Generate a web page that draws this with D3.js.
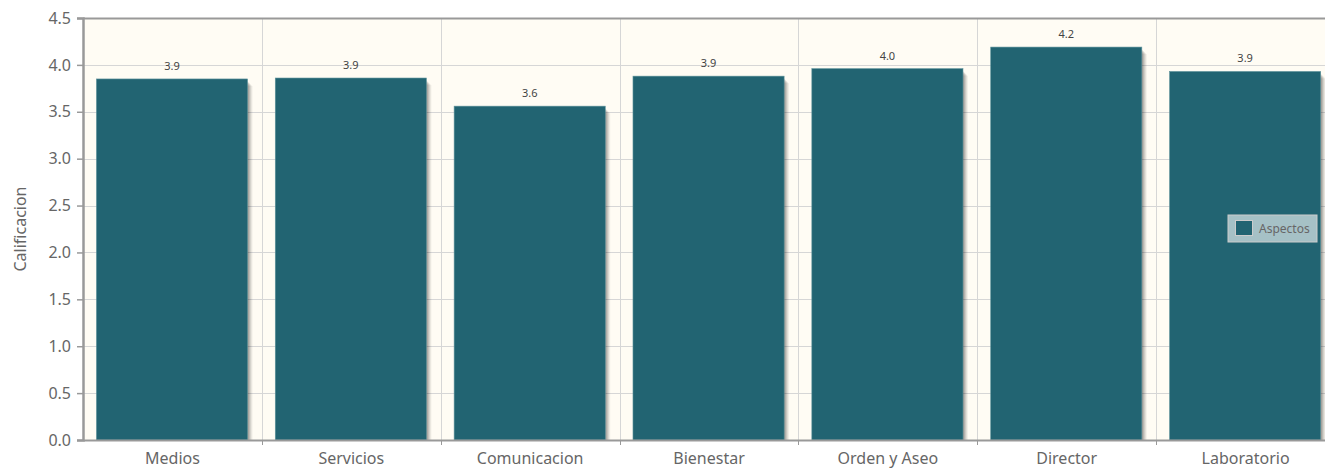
<!DOCTYPE html>
<html>
<head>
<meta charset="utf-8">
<script src="https://cdn.jsdelivr.net/npm/d3@7"></script>
<style>
  body { margin: 0; background: #fff; overflow: hidden; }
  svg { display: block; font-family: "Noto Sans", sans-serif; }
</style>
</head>
<body>
<div id="graphicContainer"></div>
<script>

// categories and values
var categories = ["Medios", "Servicios", "Comunicacion", "Bienestar", "Orden y Aseo", "Director", "Laboratorio"]
var values = [3.85, 3.86, 3.56, 3.88, 3.96, 4.19, 3.93]
var yTicks = [0, 0.5, 1, 1.5, 2, 2.5, 3, 3.5, 4, 4.5]
var seriesName = "Aspectos"

function init() {

	var width = 1325
	var height = 468
	var margin = {top: 18, right: -10, bottom: 28, left: 83}
	var font = "Noto Sans, sans-serif"

	var svg = d3.select("#graphicContainer").append("svg")
		.attr("width", width)
		.attr("height", height)

	var plotW = width - margin.left - margin.right
	var plotH = height - margin.top - margin.bottom

	var x = d3.scaleBand()
		.domain(categories)
		.range([0, plotW])
		.paddingInner(0)
		.paddingOuter(0)

	var y = d3.scaleLinear()
		.domain([0, 4.5])
		.range([plotH, 0])

	var g = svg.append("g").attr("transform", "translate(" + margin.left + "," + margin.top + ")")

	// plot background
	g.append("rect")
		.attr("width", plotW)
		.attr("height", plotH)
		.attr("fill", "#fffcf4")

	// horizontal grid
	g.append("g")
		.selectAll("line")
		.data(yTicks)
		.enter()
		.append("line")
		.attr("x1", 0)
		.attr("x2", plotW)
		.attr("y1", d => Math.round(y(d)) + 0.5)
		.attr("y2", d => Math.round(y(d)) + 0.5)
		.attr("stroke", "#d6d6d6")

	// vertical grid at category boundaries
	g.append("g")
		.selectAll("line")
		.data(categories.slice(1))
		.enter()
		.append("line")
		.attr("x1", d => Math.round(x(d)) + 0.5)
		.attr("x2", d => Math.round(x(d)) + 0.5)
		.attr("y1", 0)
		.attr("y2", plotH)
		.attr("stroke", "#d6d6d6")

	// bar shadows
	var bw = x.bandwidth()
	var barW = bw * 0.845
	var barOff = bw * 0.075

	var shadowSteps = [{o: 1, a: 0.12}, {o: 2, a: 0.11}, {o: 3, a: 0.09}, {o: 4, a: 0.07}, {o: 5, a: 0.05}]

	shadowSteps.forEach(function(s) {
		g.append("g")
			.selectAll("rect")
			.data(values)
			.enter()
			.append("rect")
			.attr("x", (d, i) => x(categories[i]) + barOff + s.o)
			.attr("y", d => y(d) + s.o + 2)
			.attr("width", barW)
			.attr("height", d => plotH - y(d) - s.o - 2)
			.attr("fill", "rgba(0,0,0," + s.a + ")")
	})

	// bars
	g.append("g")
		.selectAll("rect")
		.data(values)
		.enter()
		.append("rect")
		.attr("x", (d, i) => x(categories[i]) + barOff)
		.attr("y", d => y(d))
		.attr("width", barW)
		.attr("height", d => plotH - y(d))
		.attr("fill", "#226472")
		.attr("stroke", "#5f939c")
		.attr("stroke-width", 0.6)

	// point labels
	g.append("g")
		.selectAll("text")
		.data(values)
		.enter()
		.append("text")
		.attr("x", (d, i) => x(categories[i]) + barOff + barW / 2)
		.attr("y", d => y(d) - 9)
		.attr("text-anchor", "middle")
		.attr("font-size", 11)
		.attr("fill", "#444")
		.text(d => d3.format(".1f")(d))

	// top border
	g.append("line")
		.attr("x1", 0).attr("x2", plotW)
		.attr("y1", 0.5).attr("y2", 0.5)
		.attr("stroke", "#999")
		.attr("stroke-width", 2)

	// y axis
	var yAxis = g.append("g")
		.call(d3.axisLeft(y).tickValues(yTicks).tickFormat(d3.format(".1f")).tickSize(6).tickPadding(6))
		.attr("font-family", font)

	yAxis.select(".domain").attr("stroke", "#999").attr("stroke-width", 2.5)
	yAxis.selectAll(".tick line").attr("stroke", "#999").attr("stroke-width", 1.5)
	yAxis.selectAll(".tick text").attr("fill", "#666").attr("font-size", 16)

	// x axis
	var xAxis = g.append("g")
		.attr("transform", "translate(0," + plotH + ")")
		.call(d3.axisBottom(x).tickSize(0).tickPadding(13))
		.attr("font-family", font)

	xAxis.select(".domain").attr("stroke", "#999").attr("stroke-width", 2)
	xAxis.selectAll(".tick text").attr("fill", "#666").attr("font-size", 16)

	xAxis.selectAll(".bticks")
		.data(categories.slice(1))
		.enter()
		.append("line")
		.attr("x1", d => Math.round(x(d)) + 0.5)
		.attr("x2", d => Math.round(x(d)) + 0.5)
		.attr("y1", 0)
		.attr("y2", 5)
		.attr("stroke", "#999")

	// y axis title
	svg.append("text")
		.attr("transform", "translate(26," + (margin.top + plotH / 2) + ") rotate(-90)")
		.attr("text-anchor", "middle")
		.attr("font-size", 16)
		.attr("fill", "#666")
		.text("Calificacion")

	// legend
	var legend = svg.append("g").attr("transform", "translate(1228,215)")

	legend.append("rect")
		.attr("width", 89)
		.attr("height", 27)
		.attr("fill", "rgba(255,255,255,0.6)")
		.attr("stroke", "#ccc")

	legend.append("rect")
		.attr("x", 7.5)
		.attr("y", 5.5)
		.attr("width", 17)
		.attr("height", 15)
		.attr("fill", "#226472")
		.attr("stroke", "#ccc")

	legend.append("text")
		.attr("x", 31)
		.attr("y", 18)
		.attr("font-size", 12)
		.attr("fill", "#666")
		.text(seriesName)
}

init()

</script>
</body>
</html>
